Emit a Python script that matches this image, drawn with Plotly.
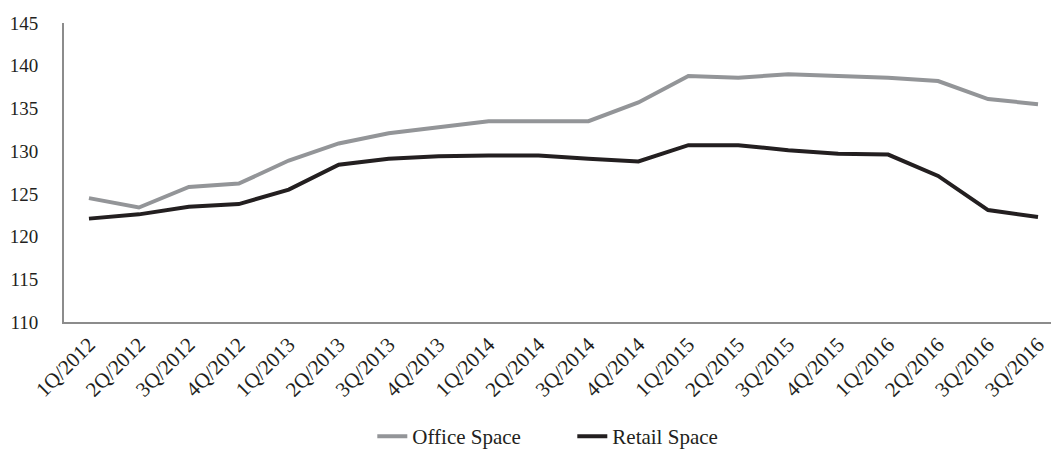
import plotly.graph_objects as go

quarters = ["1Q/2012", "2Q/2012", "3Q/2012", "4Q/2012", "1Q/2013", "2Q/2013", "3Q/2013",
            "4Q/2013", "1Q/2014", "2Q/2014", "3Q/2014", "4Q/2014", "1Q/2015", "2Q/2015",
            "3Q/2015", "4Q/2015", "1Q/2016", "2Q/2016", "3Q/2016", "3Q/2016"]
office_space = [124.5, 123.4, 125.8, 126.2, 128.9, 130.9, 132.1, 132.8, 133.5, 133.5,
                133.5, 135.7, 138.8, 138.6, 139.0, 138.8, 138.6, 138.2, 136.1, 135.5]
retail_space = [122.1, 122.6, 123.5, 123.8, 125.5, 128.4, 129.1, 129.4, 129.5, 129.5,
                129.1, 128.8, 130.7, 130.7, 130.1, 129.7, 129.6, 127.1, 123.1, 122.3]
y_ticks = [110, 115, 120, 125, 130, 135, 140, 145]

positions = list(range(len(quarters)))

fig = go.Figure()
fig.add_trace(go.Scatter(x=positions, y=office_space, mode="lines", name="Office Space",
                         line=dict(color="#939598", width=4)))
fig.add_trace(go.Scatter(x=positions, y=retail_space, mode="lines", name="Retail Space",
                         line=dict(color="#231f20", width=4)))

font_family = "Liberation Serif, Times New Roman, serif"
fig.update_layout(
    width=1051, height=457,
    margin=dict(l=64, r=0, t=23, b=132),
    paper_bgcolor="white", plot_bgcolor="white",
    font=dict(family=font_family, size=20, color="#231f20"),
    showlegend=True,
    legend=dict(orientation="h", x=0.515, xanchor="center", y=-0.385, yanchor="middle",
                font=dict(size=21), entrywidth=155, entrywidthmode="pixels",
                traceorder="normal"),
    xaxis=dict(range=[-0.5, 19.26], tickvals=positions, ticktext=quarters,
               tickangle=-45, showgrid=False, zeroline=False, automargin=False,
               showline=True, linecolor="#8c8c8c", linewidth=2, ticks="",
               tickfont=dict(size=21)),
    yaxis=dict(range=[110, 145], tickvals=y_ticks, showgrid=False, zeroline=False,
               automargin=False,
               showline=True, linecolor="#8c8c8c", linewidth=2, ticks="",
               ticklabelstandoff=20, tickfont=dict(size=19)),
)

fig.write_html("out.html")
